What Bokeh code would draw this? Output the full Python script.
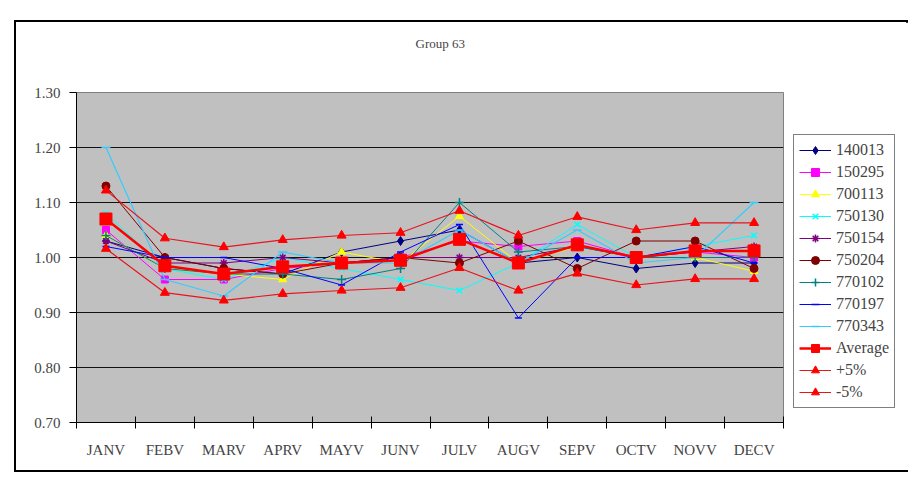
from bokeh.plotting import figure
from bokeh.models import Legend, LegendItem, FixedTicker, NumeralTickFormatter, Range1d, Title
from bokeh.embed import file_html
from bokeh.resources import INLINE

months = ["JANV", "FEBV", "MARV", "APRV", "MAYV", "JUNV", "JULV", "AUGV", "SEPV", "OCTV", "NOVV", "DECV"]
y_ticks = [0.70, 0.80, 0.90, 1.00, 1.10, 1.20, 1.30]

s140013 = [1.03, 1.00, 0.98, 0.97, 1.01, 1.03, 1.05, 0.99, 1.00, 0.98, 0.99, 0.99]
s150295 = [1.05, 0.96, 0.96, 0.98, 0.99, 1.00, 1.03, 1.02, 1.03, 1.00, 1.01, 1.00]
s700113 = [1.04, 0.98, 0.97, 0.96, 1.01, 0.99, 1.075, 0.99, 1.02, 1.00, 1.00, 0.975]
s750130 = [1.08, 0.98, 0.96, 1.00, 0.98, 0.96, 0.94, 0.99, 1.06, 1.00, 1.02, 1.04]
s750154 = [1.03, 0.99, 0.99, 1.00, 0.99, 1.00, 1.00, 1.00, 1.02, 1.00, 1.01, 1.02]
s750204 = [1.13, 1.00, 0.98, 0.97, 0.99, 1.00, 0.99, 1.03, 0.98, 1.03, 1.03, 0.98]
s770102 = [1.04, 0.98, 0.97, 0.97, 0.96, 0.98, 1.10, 1.01, 1.02, 1.00, 1.00, 1.00]
s770197 = [1.02, 1.00, 1.00, 0.98, 0.95, 1.01, 1.06, 0.89, 1.00, 1.00, 1.02, 0.99]
s770343 = [1.20, 0.96, 0.93, 1.01, 0.99, 0.99, 1.05, 0.99, 1.05, 0.99, 1.00, 1.10]
average = [1.07, 0.985, 0.97, 0.983, 0.99, 0.995, 1.033, 0.99, 1.023, 1.00, 1.012, 1.012]
plus5 = [1.122, 1.035, 1.019, 1.032, 1.04, 1.045, 1.085, 1.04, 1.074, 1.05, 1.063, 1.063]
minus5 = [1.016, 0.936, 0.922, 0.934, 0.94, 0.945, 0.981, 0.94, 0.971, 0.95, 0.961, 0.961]

FONT = "Liberation Serif"

x = list(range(len(months)))

p = figure(frame_width=707, frame_height=330,
           x_range=Range1d(-0.5, len(months) - 0.5), y_range=Range1d(0.70, 1.30),
           output_backend="svg", toolbar_location=None,
           min_border_left=60, min_border_right=123, min_border_top=70, min_border_bottom=48)
p.styles = {"margin-left": "14px", "margin-top": "20px", "border": "2px solid black",
            "box-sizing": "content-box", "width": "890px", "height": "448px"}
p.background_fill_color = "#C0C0C0"
p.border_fill_color = "white"
p.outline_line_color = "#808080"

p.title.text = ""
p.add_layout(Title(text=" ", text_font_size="22px"), "above")
p.add_layout(Title(text="Group 63", align="left", text_font=FONT, text_font_size="13px",
                   text_font_style="normal", offset=339), "above")

p.xgrid.visible = False
p.ygrid.grid_line_color = "#111111"
p.ygrid.grid_line_width = 1

p.yaxis.ticker = FixedTicker(ticks=y_ticks)
p.yaxis.formatter = NumeralTickFormatter(format="0.00")
p.yaxis.minor_tick_line_color = None
p.yaxis.major_tick_in = 0
p.yaxis.major_tick_out = 7
p.yaxis.major_label_standoff = 9
p.yaxis.axis_line_color = "black"
p.yaxis.major_label_text_font = FONT
p.yaxis.major_label_text_font_size = "15px"

p.xaxis.ticker = FixedTicker(ticks=x, minor_ticks=[i - 0.5 for i in range(len(months) + 1)])
p.xaxis.major_label_overrides = {i: m for i, m in zip(x, months)}
p.xaxis.major_tick_in = 0
p.xaxis.major_tick_out = 0
p.xaxis.minor_tick_in = 6
p.xaxis.minor_tick_out = 6
p.xaxis.minor_tick_line_color = "black"
p.xaxis.axis_line_color = "black"
p.xaxis.major_label_standoff = 13
p.xaxis.major_label_text_font = FONT
p.xaxis.major_label_text_font_size = "15px"

series = [
    ("140013", s140013, "#000080", "diamond", 9, 1),
    ("150295", s150295, "#FF00FF", "square", 7, 1),
    ("700113", s700113, "#FFFF00", "triangle", 8, 1),
    ("750130", s750130, "#00FFFF", "x", 8, 1),
    ("750154", s750154, "#800080", "asterisk", 8, 1),
    ("750204", s750204, "#800000", "circle", 8, 1),
    ("770102", s770102, "#008080", "cross", 9, 1),
    ("770197", s770197, "#0000FF", "dash", 7, 1),
    ("770343", s770343, "#33CCFF", "dash", 9, 1.2),
    ("Average", average, "#FF0000", "square", 12, 2.5),
    ("+5%", plus5, "#E8141E", "triangle", 9, 1.2),
    ("-5%", minus5, "#E8141E", "triangle", 9, 1.2),
]

items = []
for name, vals, color, marker, size, lw in series:
    r1 = p.line(x, vals, line_color=color, line_width=lw)
    mcolor = "#FF0000" if name in ("+5%", "-5%") else color
    r2 = p.scatter(x, vals, marker=marker, size=size, fill_color=mcolor, line_color=mcolor,
                   line_width=1.5 if marker in ("x", "asterisk", "cross", "dash") else 1)
    items.append(LegendItem(label=name, renderers=[r1, r2]))

legend = Legend(items=items, location=(10, 14), margin=0)
legend.label_text_font = FONT
legend.label_text_font_size = "16px"
legend.glyph_width = 32
legend.glyph_height = 20
legend.label_height = 20
legend.spacing = 2
legend.padding = 5
legend.label_standoff = 5
legend.border_line_color = "black"
legend.border_line_width = 1
legend.background_fill_color = "white"
p.add_layout(legend, "right")

open("out.html", "w").write(file_html(p, INLINE))
